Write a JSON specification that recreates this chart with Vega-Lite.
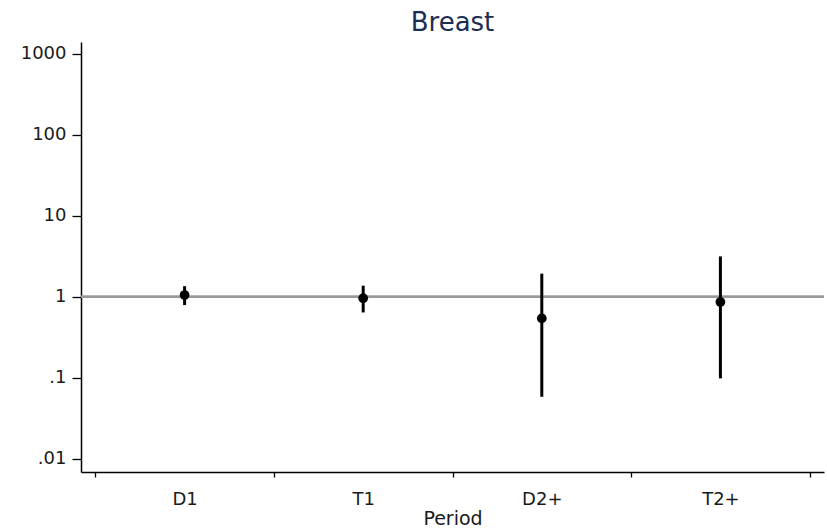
{
  "$schema": "https://vega.github.io/schema/vega-lite/v6.json",
  "autosize": {"type": "none"},
  "width": 743,
  "height": 430,
  "padding": {"left": 81, "top": 42, "right": 3, "bottom": 60},
  "background": "white",
  "config": {
    "view": {"stroke": null},
    "font": "DejaVu Sans",
    "axis": {"grid": false, "domainColor": "#000", "tickColor": "#000", "domainWidth": 1.5, "tickWidth": 1.3, "labelColor": "#1a1a1a", "titleColor": "#1a1a1a", "labelFont": "DejaVu Sans", "titleFont": "DejaVu Sans", "labelFontSize": 18, "titleFontSize": 19, "titleFontWeight": "normal"}
  },
  "title": {"text": "Breast", "fontSize": 26, "fontWeight": "normal", "font": "DejaVu Sans", "color": "#1c2d52", "anchor": "middle", "offset": 6},
  "data": {"values": [
    {"period": "D1", "est": 1.05, "lo": 0.79, "hi": 1.35},
    {"period": "T1", "est": 0.96, "lo": 0.64, "hi": 1.37},
    {"period": "D2+", "est": 0.54, "lo": 0.058, "hi": 1.93},
    {"period": "T2+", "est": 0.86, "lo": 0.098, "hi": 3.15}
  ]},
  "layer": [
    {
      "mark": {"type": "rule", "color": "#999999", "strokeWidth": 2},
      "encoding": {"y": {"datum": 1, "type": "quantitative", "scale": {"type": "log", "domain": [0.00683, 1406], "nice": false}}}
    },
    {
      "mark": {"type": "rule", "color": "#000", "strokeWidth": 3},
      "encoding": {
        "x": {"field": "period", "type": "nominal", "sort": ["D1", "T1", "D2+", "T2+"], "scale": {"type": "band", "paddingInner": 0, "paddingOuter": 0.08},
          "axis": {"title": "Period", "labelAngle": 0, "tickBand": "extent", "tickSize": 5, "labelPadding": 13, "titlePadding": 1}},
        "y": {"field": "lo", "type": "quantitative", "scale": {"type": "log", "domain": [0.00683, 1406], "nice": false},
          "axis": {"title": null, "values": [0.01, 0.1, 1, 10, 100, 1000], "tickSize": 9, "labelPadding": 6, "labelExpr": "datum.value < 0.05 ? '.01' : datum.value < 0.5 ? '.1' : format(datum.value, 'd')"}},
        "y2": {"field": "hi"}
      }
    },
    {
      "mark": {"type": "circle", "color": "#000", "opacity": 1, "size": 95},
      "encoding": {
        "x": {"field": "period", "type": "nominal", "sort": ["D1", "T1", "D2+", "T2+"], "scale": {"type": "band", "paddingInner": 0, "paddingOuter": 0.08}},
        "y": {"field": "est", "type": "quantitative", "scale": {"type": "log", "domain": [0.00683, 1406], "nice": false}}
      }
    }
  ]
}
